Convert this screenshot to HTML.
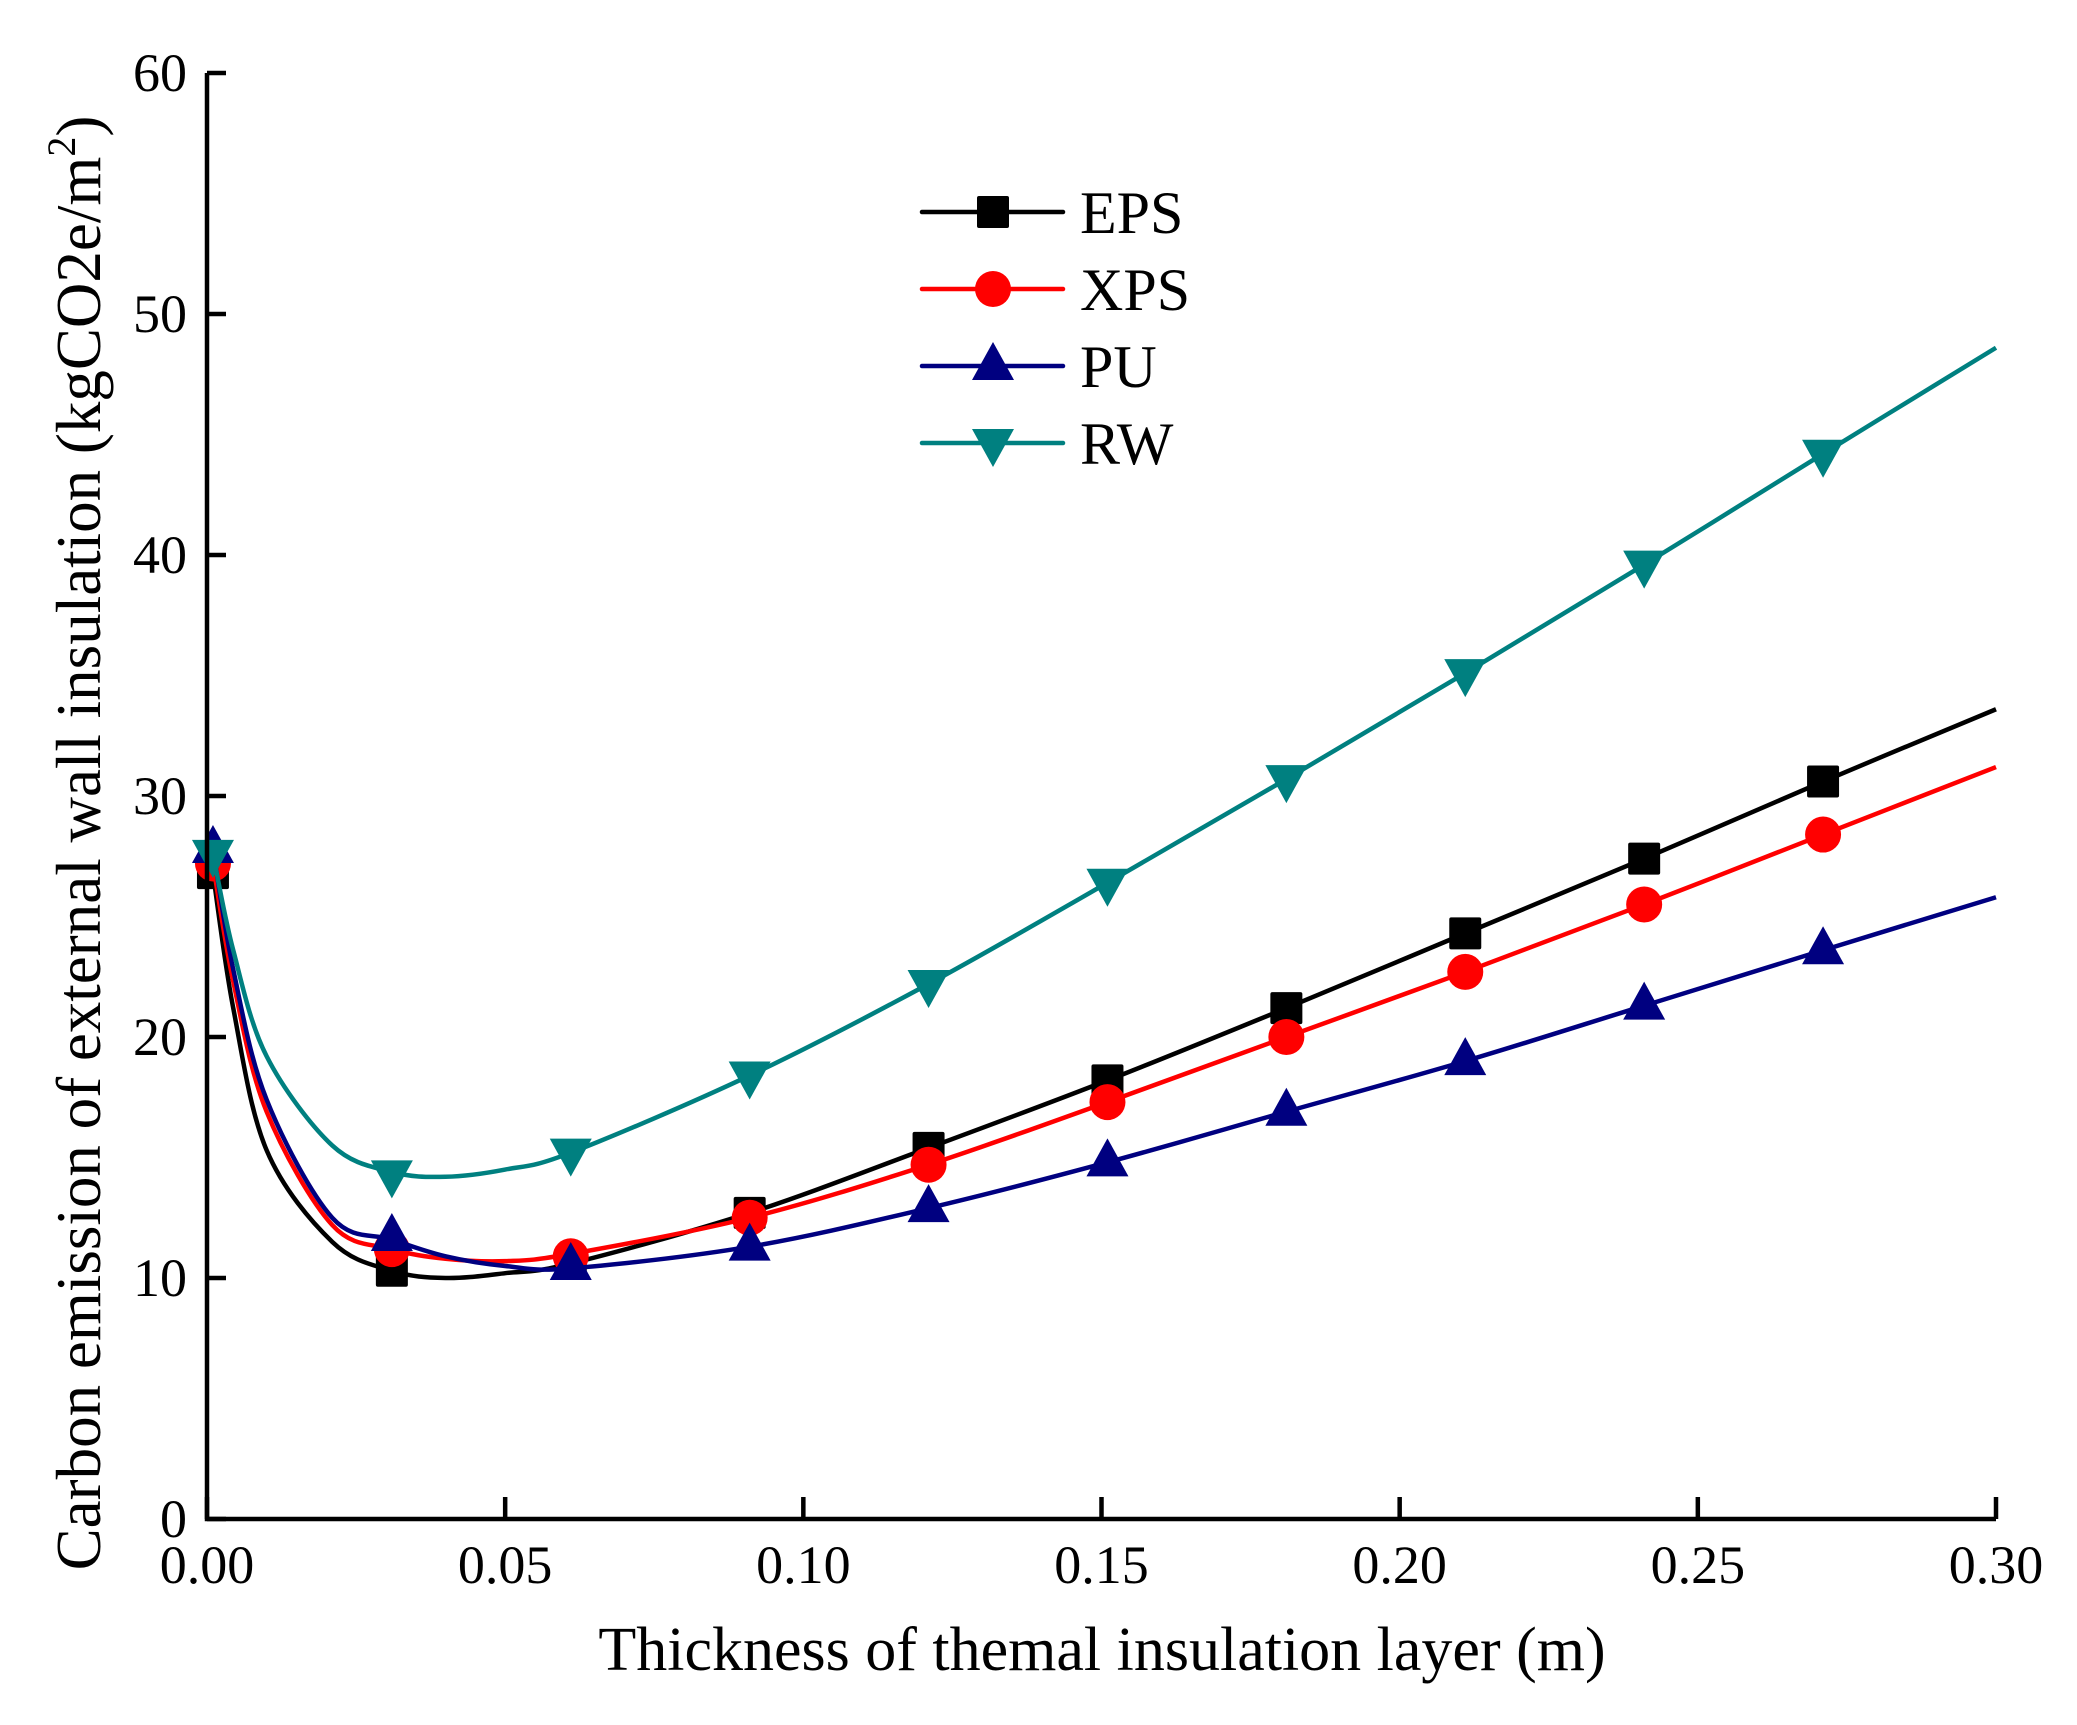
<!DOCTYPE html>
<html><head><meta charset="utf-8"><style>
html,body{margin:0;padding:0;background:#fff;}
svg text{font-family:"Liberation Serif",serif;fill:#000;}
</style></head><body>
<svg id="chart" width="2077" height="1720" viewBox="0 0 2077 1720" xmlns="http://www.w3.org/2000/svg">
<g id="marks"></g>
<g id="axes"></g>
<g id="legend"></g>
</svg>
<script>
// marker positions and values
const xValues = [0.001, 0.031, 0.061, 0.091, 0.121, 0.151, 0.181, 0.211, 0.241, 0.271];
const epsValues = [26.8, 10.3, 10.6, 12.7, 15.4, 18.2, 21.2, 24.3, 27.4, 30.6];
const xpsValues = [27.2, 11.2, 10.9, 12.5, 14.7, 17.3, 20.0, 22.7, 25.5, 28.4];
const puValues = [27.8, 11.7, 10.5, 11.3, 12.9, 14.8, 16.9, 19.0, 21.3, 23.6];
const rwValues = [27.6, 14.3, 15.2, 18.4, 22.2, 26.4, 30.7, 35.1, 39.6, 44.2];
// fitted curve samples
const curveX = [0.001, 0.0044, 0.010, 0.021, 0.031, 0.040, 0.050, 0.061, 0.091, 0.121, 0.151, 0.181, 0.211, 0.241, 0.271, 0.300];
const epsCurve = [26.8, 21.2, 15.3, 11.5, 10.3, 10.0, 10.2, 10.6, 12.7, 15.4, 18.2, 21.2, 24.3, 27.4, 30.6, 33.6];
const xpsCurve = [27.2, 22.3, 16.9, 12.2, 11.2, 10.8, 10.7, 11.0, 12.5, 14.7, 17.3, 20.0, 22.7, 25.5, 28.4, 31.2];
const puCurve = [27.8, 22.8, 17.4, 12.5, 11.6, 10.9, 10.5, 10.4, 11.3, 12.9, 14.8, 16.9, 19.0, 21.3, 23.6, 25.8];
const rwCurve = [27.6, 23.6, 19.2, 15.5, 14.4, 14.2, 14.5, 15.2, 18.4, 22.2, 26.4, 30.7, 35.1, 39.6, 44.2, 48.6];
const xTicks = [0, 0.05, 0.10, 0.15, 0.20, 0.25, 0.30];
const xTickLabels = ["0.00", "0.05", "0.10", "0.15", "0.20", "0.25", "0.30"];
const yTicks = [0, 10, 20, 30, 40, 50, 60];
const yTickLabels = ["0", "10", "20", "30", "40", "50", "60"];
const seriesNames = ["EPS", "XPS", "PU", "RW"];

const NS = "http://www.w3.org/2000/svg";
const X0 = 207, X1 = 1996, Y0 = 1519, Y1 = 73;
function sx(v){ return X0 + v / 0.30 * (X1 - X0); }
function sy(v){ return Y0 - v / 60 * (Y0 - Y1); }
function mk(tag, attrs, parent){
  const e = document.createElementNS(NS, tag);
  for (const k in attrs) e.setAttribute(k, attrs[k]);
  parent.appendChild(e);
  return e;
}
const marks = document.getElementById('marks');
const axes = document.getElementById('axes');
const legend = document.getElementById('legend');

function smoothPath(xs, ys){
  const p = xs.map((x,i)=>[sx(x), sy(ys[i])]);
  let d = `M${p[0][0]},${p[0][1]}`;
  for (let i=0;i<p.length-1;i++){
    const p0 = p[i-1]||p[i], p1=p[i], p2=p[i+1], p3=p[i+2]||p[i+1];
    const c1 = [p1[0]+(p2[0]-p0[0])/6, p1[1]+(p2[1]-p0[1])/6];
    const c2 = [p2[0]-(p3[0]-p1[0])/6, p2[1]-(p3[1]-p1[1])/6];
    d += ` C${c1[0]},${c1[1]} ${c2[0]},${c2[1]} ${p2[0]},${p2[1]}`;
  }
  return d;
}
function marker(type, cx, cy, color, parent){
  let e;
  if (type==='square') e = mk('rect',{x:cx-16,y:cy-16,width:32,height:32,rx:2,fill:color},parent);
  else if (type==='circle') e = mk('circle',{cx:cx,cy:cy,r:18,fill:color},parent);
  else if (type==='up') e = mk('polygon',{points:`${cx},${cy-24} ${cx-21},${cy+14} ${cx+21},${cy+14}`,fill:color},parent);
  else e = mk('polygon',{points:`${cx},${cy+24} ${cx-21},${cy-14} ${cx+21},${cy-14}`,fill:color},parent);
  return e;
}
const series = [
  {name:seriesNames[0], vals:epsValues, curve:epsCurve, color:'#000000', m:'square', key:'eps'},
  {name:seriesNames[1], vals:xpsValues, curve:xpsCurve, color:'#ff0000', m:'circle', key:'xps'},
  {name:seriesNames[2], vals:puValues, curve:puCurve, color:'#000080', m:'up', key:'pu'},
  {name:seriesNames[3], vals:rwValues, curve:rwCurve, color:'#008080', m:'down', key:'rw'}
];
series.forEach(s=>{
  const g = mk('g',{},marks);
  
  
  const path = mk('path',{d:smoothPath(curveX, s.curve),fill:'none',stroke:s.color,'stroke-width':4.5},g);
  
  
  for (let i=0;i<xValues.length;i++){
    const m = marker(s.m, sx(xValues[i]), sy(s.vals[i]), s.color, g);
    
    
  }
});

// axes
const al = mk('path',{d:`M${X0},${Y1} V${Y0} H${X1}`,fill:'none',stroke:'#000','stroke-width':4.5},axes);


yTicks.forEach((v,i)=>{
  const t = mk('line',{x1:X0,x2:X0+19,y1:sy(v),y2:sy(v),stroke:'#000','stroke-width':4.5},axes);
  
  
  const tx = mk('text',{x:X0-20,y:sy(v)+18,'text-anchor':'end','font-size':54},axes);
  tx.textContent = yTickLabels[i];
  
  
});
xTicks.forEach((v,i)=>{
  const t = mk('line',{x1:sx(v),x2:sx(v),y1:Y0,y2:Y0-22,stroke:'#000','stroke-width':4.5},axes);
  
  
  const tx = mk('text',{x:sx(v),y:Y0+64,'text-anchor':'middle','font-size':54},axes);
  tx.textContent = xTickLabels[i];
  
  
});
const xt = mk('text',{x:1102,y:1670,'text-anchor':'middle','font-size':62},axes);
xt.textContent = 'Thickness of themal insulation layer (m)';


const yt = mk('text',{x:0,y:0,'text-anchor':'middle','font-size':63,transform:'translate(100,843) rotate(-90)'},axes);
yt.innerHTML = 'Carbon emission of external wall insulation (kgCO2e/m<tspan dy="-25" font-size="40">2</tspan><tspan dy="25">)</tspan>';



// legend
const ly = [212, 289, 366, 443];
series.forEach((s,i)=>{
  const g = mk('g',{},legend);
  
  
  mk('line',{x1:922,x2:1063,y1:ly[i],y2:ly[i],stroke:s.color,'stroke-width':4.5,'stroke-linecap':'round'},g);
  marker(s.m, 993, ly[i], s.color, g);
  const t = mk('text',{x:1080,y:ly[i]+21,'font-size':60},g);
  t.textContent = s.name;
});
</script>
</body></html>
